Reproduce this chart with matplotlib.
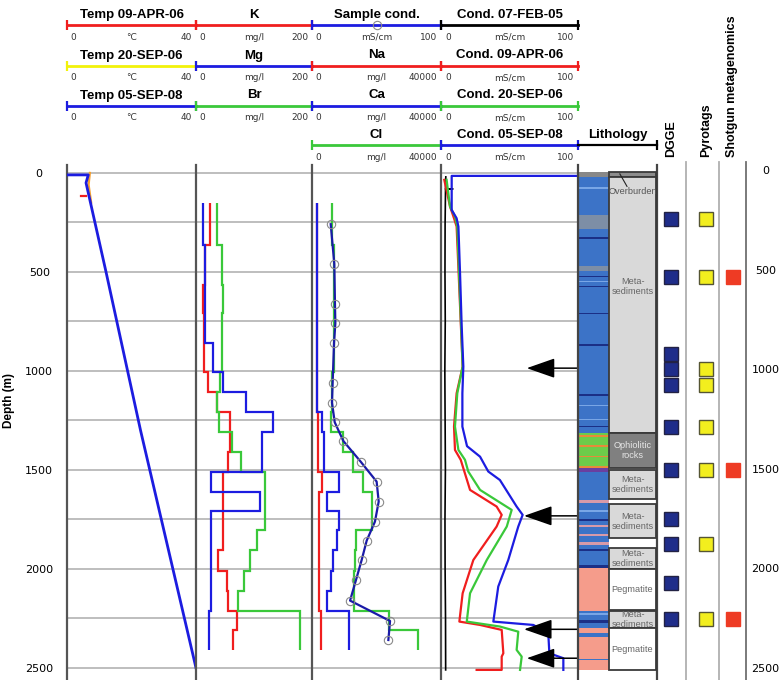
import numpy as np
import matplotlib.pyplot as plt
from matplotlib.patches import Rectangle

plt.rcParams['font.family'] = ['DejaVu Sans']

# ---------------- data ----------------
# temperature logs (deg C) vs depth (m)
temp08_depth = [10, 10, 50, 500, 1300, 2500]
temp08_val = [0, 6.6, 5.9, 12.1, 22.8, 40]
temp06s_depth = [0, 30, 60, 150]
temp06s_val = [7.1, 6.9, 6.7, 7.5]
temp06a_depth = [115, 115]
temp06a_val = [4.2, 5.9]

# water samples: depth interval edges (m)
samp_edges = [153, 364, 566, 709, 857, 1007, 1108, 1209, 1311, 1411, 1508,
              1610, 1707, 1803, 1904, 2008, 2109, 2210, 2308, 2409]
K = [24, 15.5, 12.6, 13.8, 13.8, 21.3, 35.6, 58.6, 58.6, 55.7, 46, 47, 47, 46,
     38.5, 53, 56, 70, 63]
Mg = [12.6, 15.5, 15.5, 15.5, 30, 47, 87, 133, 113, 113, 25, 111, 25, 25, 25,
      25, 25, 23, 23]
Br = [37, 44, 47, 44, 44, 41, 36, 40, 62, 78, 119, 119, 119, 105, 93, 83, 73,
      180, 180]
Na = [1450, 1450, 1450, 1450, 1450, 1450, 1450, 1960, 1960, 1960, 3000, 2270,
      2270, 2270, 2270, 2270, 2270, 2690, 2690]
Ca = [1650, 1650, 1650, 1650, 1650, 1650, 1650, 3000, 3720, 3720, 8470, 4550,
      8470, 7650, 6600, 5790, 4750, 11570, 11570]
Cl = [6100, 6900, 6800, 6800, 6800, 6300, 6300, 6000, 9600, 12700, 15700,
      18600, 18600, 13500, 13300, 12900, 12900, 24000, 33000]

# sample conductivity (mS/cm)
scond_depth = [259, 460, 662, 759, 857, 1059, 1160, 1259, 1354, 1458, 1559,
               1660, 1761, 1857, 1955, 2056, 2160, 2263, 2359]
scond_val = [14.5, 17.3, 17.8, 18.1, 17.1, 16.0, 15.5, 17.6, 24.3, 37.7, 50.1,
             51.7, 48.8, 42.4, 38.5, 34.1, 29.5, 60.5, 59.2]

# borehole conductivity logs (mS/cm)
c05_depth = [20, 81, 81, 81, 250, 500, 750, 1000, 1250, 1500, 1750, 2000,
             2250, 2510]
c05_val = [3.5, 3.3, 8.5, 3.3, 3.0, 2.9, 3.1, 2.8, 3.0, 3.2, 2.9, 3.0, 3.3, 3.4]
c06a_depth = [35, 170, 229, 271, 978, 1113, 1281, 1399, 1449, 1601, 1685, 1727,
              1786, 1955, 2123, 2266, 2283, 2308, 2426, 2443, 2510, 2510]
c06a_val = [2.4, 6.6, 9.5, 11.4, 15.8, 11.4, 9.5, 10.2, 14.4, 21.2, 40.6, 44.3,
            40.6, 23.6, 15.8, 13.4, 28.5, 44.3, 45.5, 44.3, 44.3, 26]
c06s_depth = [35, 170, 220, 271, 978, 1113, 1281, 1399, 1449, 1508, 1601, 1702,
              1786, 1955, 2123, 2266, 2291, 2317, 2409, 2443, 2510]
c06s_val = [4.1, 6.6, 10.2, 11.9, 15.8, 11.9, 10.2, 12.7, 17.5, 19.9, 28.5,
            51.6, 48, 33.4, 21.2, 18.8, 43, 56.4, 55.2, 58.9, 57.7]
c08_depth = [15, 15, 187, 229, 271, 507, 776, 978, 1113, 1281, 1380, 1433,
             1508, 1551, 1618, 1685, 1727, 1786, 1955, 2089, 2266, 2283, 2325,
             2426, 2451, 2510]
c08_val = [100, 7.8, 7.8, 11.4, 12.7, 13.9, 15.1, 16.3, 15.6, 15.6, 19, 28.5,
           34.5, 43, 49.1, 55.2, 59.6, 56.4, 49.1, 41.8, 38.2, 67.4, 78.3,
           79.1, 89.3, 89.3]

# inflow arrows: depth (m) and tip value (mS/cm)
arrow_depth = [986, 1732, 2305, 2451]
arrow_tip = [62.6, 60.6, 60.6, 62.6]

# lithology colour strip: top, bottom, colour
BL, NV, GB, LB = '#3c73c7', '#1b2f86', '#7d8ea6', '#79a6e6'
GR, OR, SA, PK, PU = '#6dcc4a', '#e88a3a', '#f59c8b', '#d89aa9', '#6a3fa0'
strip = [(-7, 22, '#888888'), (22, 1315, BL), (72, 80, LB), (215, 285, GB),
         (325, 333, NV), (468, 495, GB), (520, 528, NV), (545, 552, LB),
         (570, 578, NV), (705, 712, NV), (865, 872, NV), (1118, 1125, NV),
         (1170, 1175, LB), (1245, 1250, LB), (1278, 1284, NV),
         (1315, 1491, GR), (1325, 1333, OR), (1375, 1382, OR),
         (1430, 1437, OR), (1480, 1488, OR), (1491, 1508, PU),
         (1508, 1650, BL), (1650, 1665, PK), (1665, 1995, BL),
         (1700, 1712, LB), (1748, 1756, NV), (1780, 1790, PK),
         (1822, 1835, PK), (1862, 1880, PK), (1900, 1908, NV),
         (1982, 1998, NV), (1995, 2212, SA), (2212, 2300, BL),
         (2225, 2232, LB), (2258, 2275, NV), (2300, 2510, SA),
         (2325, 2342, BL), (2455, 2462, BL)]

# lithology units: top, bottom, label, label depth, fill, text colour
units = [(-7, 22, '', 0, '#8c8c8c', '#555555'),
         (22, 1315, 'Meta-\nsediments', 575, '#d9d9d9', '#666666'),
         (1315, 1491, 'Ophiolitic\nrocks', 1403, '#808080', '#e6e6e6'),
         (1500, 1648, 'Meta-\nsediments', 1574, '#d9d9d9', '#666666'),
         (1673, 1845, 'Meta-\nsediments', 1759, '#d9d9d9', '#666666'),
         (1895, 2000, 'Meta-\nsediments', 1947, '#d9d9d9', '#666666'),
         (2000, 2207, 'Pegmatite', 2103, 'white', '#666666'),
         (2212, 2300, 'Meta-\nsediments', 2256, '#d9d9d9', '#666666'),
         (2300, 2510, 'Pegmatite', 2405, 'white', '#666666')]

# microbiology samples (depth, m)
dgge = [246, 535, 924, 998, 1079, 1290, 1505, 1753, 1879, 2072, 2253]
pyro = [246, 535, 998, 1079, 1290, 1505, 1879, 2253]
shotgun = [535, 1505, 2253]

# ---------------- layout ----------------
W, H = 783, 680
TOP, BOT = 165, 680
YLIM = (2561, -40)
RED, BLUE, GREEN = '#f01e1e', '#1c1ce0', '#3ac83a'
YEL, ORANGE = '#f2f20a', '#f5a030'
SPINE = '#555555'
GRID = '#b3b3b3'
LIB = ['Liberation Sans', 'DejaVu Sans']


def fbox(x0, x1, y0, y1):
    return [x0 / W, 1 - y1 / H, (x1 - x0) / W, (y1 - y0) / H]


fig = plt.figure(figsize=(W / 100, H / 100), dpi=100)

tracks = [(67, 196), (196, 312), (312, 441), (441, 578)]
xmax = [40, 200, 40000, 100]
axs = []
for i, (x0, x1) in enumerate(tracks):
    ax = fig.add_axes(fbox(x0, x1, TOP, BOT),
                      sharey=axs[0] if axs else None)
    ax.set_xlim(0, xmax[i])
    ax.set_ylim(*YLIM)
    for s in ['top', 'right', 'bottom']:
        ax.spines[s].set_visible(False)
    ax.spines['left'].set_color(SPINE)
    ax.spines['left'].set_linewidth(1.6)
    ax.set_xticks([])
    ax.set_yticks(range(0, 2501, 500))
    ax.set_yticks(range(250, 2500, 500), minor=True)
    ax.grid(axis='y', which='both', color=GRID, lw=1.2, zorder=0)
    ax.tick_params(axis='y', which='both', length=0, labelsize=8, pad=20)
    ax.set_facecolor('none')
    axs.append(ax)
for ax in axs[1:]:
    ax.tick_params(axis='y', labelleft=False)
for lbl in axs[0].get_yticklabels():
    lbl.set_ha('center')

lw = 1.6
# temperature
a = axs[0]
a.plot(temp06a_val, temp06a_depth, color=RED, lw=lw, zorder=3)
a.plot(temp06s_val, temp06s_depth, color=ORANGE, lw=lw, zorder=3)
a.plot(temp08_val, temp08_depth, color=BLUE, lw=2.0, zorder=4)

# K, Mg, Br
a = axs[1]
for vals, c in [(K, RED), (Br, GREEN), (Mg, BLUE)]:
    a.stairs(vals, samp_edges, orientation='horizontal', baseline=None,
             color=c, lw=lw, zorder=3)

# Na, Ca, Cl + sample conductivity
a = axs[2]
for vals, c in [(Na, RED), (Cl, GREEN), (Ca, BLUE)]:
    a.stairs(vals, samp_edges, orientation='horizontal', baseline=None,
             color=c, lw=lw, zorder=3)
a2 = a.twiny()
a2.set_xlim(0, 100)
a2.axis('off')
a2.plot(scond_val, scond_depth, color='#1a1aa8', lw=lw, zorder=4)
a2.plot(scond_val, scond_depth, 'o', ms=6, mfc='none', mec='#8a8a8a',
        mew=0.8, zorder=5)

# conductivity logs
a = axs[3]
a.plot(c05_val, c05_depth, color='black', lw=1.2, zorder=3)
a.plot(c06a_val, c06a_depth, color=RED, lw=lw, zorder=3)
a.plot(c06s_val, c06s_depth, color=GREEN, lw=lw, zorder=3)
a.plot(c08_val, c08_depth, color=BLUE, lw=lw, zorder=4)
for d, tip in zip(arrow_depth, arrow_tip):
    a.annotate('', xy=(tip, d), xytext=(100.5, d), annotation_clip=False,
               arrowprops=dict(arrowstyle='-|>,head_length=0.8,head_width=0.28',
                               mutation_scale=22, color='black', lw=1.1,
                               shrinkA=0, shrinkB=0), zorder=6)

fig.text(9 / W, 1 - 400 / H, 'Depth (m)', rotation=90, ha='center',
         va='center', fontsize=8.5, fontweight='bold', family=LIB)

# lithology
al = fig.add_axes(fbox(578, 657, TOP, BOT), sharey=axs[0])
al.set_xlim(0, 1)
al.set_ylim(*YLIM)
al.set_xticks([])
al.tick_params(axis='y', which='both', length=0, labelleft=False)
for s in ['top', 'bottom']:
    al.spines[s].set_visible(False)
for s in ['left', 'right']:
    al.spines[s].set_color('#444444')
    al.spines[s].set_linewidth(1.6)
al.set_facecolor('none')
for t, b, c in strip:
    al.add_patch(Rectangle((0, t), 0.39, b - t, facecolor=c, edgecolor='none',
                           zorder=2))
for t, b, lab, ld, fc, tc in units:
    al.add_patch(Rectangle((0.39, t), 0.6, b - t, facecolor=fc,
                           edgecolor='#3a3a3a', lw=1.3, zorder=3))
    if lab:
        al.text(0.69, ld, lab, ha='center', va='center', fontsize=6.6,
                color=tc, linespacing=1.2, zorder=4, family=LIB)
al.text(0.69, 92, 'Overburden', ha='center', va='center', fontsize=6.6,
        color='#555555', zorder=4, family=LIB)
al.plot([0.53, 0.62], [5, 68], color='#222222', lw=0.8, zorder=4)

# microbiology columns
cols = [(657, 686, dgge, 0.48, '#1f2d8a', '#222244', 'DGGE', '#b0b0b0'),
        (686, 719, pyro, 0.6, '#f2ee1e', '#555533', 'Pyrotags', '#b0b0b0'),
        (719, 746, shotgun, 0.5, '#ee3b24', '#ee3b24',
         'Shotgun metagenomics', '#707070')]
for x0, x1, deps, xc, fc, ec, name, sc in cols:
    ac = fig.add_axes(fbox(x0, x1, TOP - 3, BOT), sharey=axs[0])
    ac.set_xlim(0, 1)
    ac.set_ylim(*YLIM)
    ac.set_xticks([])
    ac.set_facecolor('none')
    for s in ['top', 'bottom', 'left']:
        ac.spines[s].set_visible(False)
    ac.spines['right'].set_color(sc)
    ac.spines['right'].set_linewidth(1.3)
    ac.plot([xc] * len(deps), deps, 's', ms=10, mfc=fc, mec=ec, mew=1.0,
            zorder=3, clip_on=False)
    ac.text(xc, 1 - (157 - TOP + 3) / (BOT - TOP + 3), name, rotation=90,
            ha='center', va='bottom', transform=ac.transAxes, fontsize=9,
            fontweight='bold', family=LIB)
    ac.tick_params(axis='y', which='both', length=0, labelleft=False)
ac.yaxis.tick_right()
ac.tick_params(axis='y', which='both', length=0, labelright=True, pad=14,
               labelsize=8)
for lbl in ac.get_yticklabels():
    lbl.set_ha('center')

# ---------------- header scale bars ----------------
headers = [
    [('Temp 09-APR-06', RED, '0', '°C', '40'),
     ('Temp 20-SEP-06', YEL, '0', '°C', '40'),
     ('Temp 05-SEP-08', BLUE, '0', '°C', '40')],
    [('K', RED, '0', 'mg/l', '200'), ('Mg', BLUE, '0', 'mg/l', '200'),
     ('Br', GREEN, '0', 'mg/l', '200')],
    [('Sample cond.', BLUE, '0', 'mS/cm', '100'),
     ('Na', RED, '0', 'mg/l', '40000'), ('Ca', BLUE, '0', 'mg/l', '40000'),
     ('Cl', GREEN, '0', 'mg/l', '40000')],
    [('Cond. 07-FEB-05', 'black', '0', 'mS/cm', '100'),
     ('Cond. 09-APR-06', RED, '0', 'mS/cm', '100'),
     ('Cond. 20-SEP-06', GREEN, '0', 'mS/cm', '100'),
     ('Cond. 05-SEP-08', BLUE, '0', 'mS/cm', '100')],
]
row_y = [25, 65.5, 105.5, 145]
bold = dict(fontsize=9.5, fontweight='bold', family=LIB)
small = dict(fontsize=6.5, color='#333333')
for (x0, x1), rows in zip(tracks, headers):
    ah = fig.add_axes(fbox(x0, x1, 0, TOP))
    ah.set_xlim(0, 1)
    ah.set_ylim(TOP, 0)
    ah.axis('off')
    for (title, c, lo, unit, hi), y in zip(rows, row_y):
        ah.plot([0, 1], [y, y], color=c, lw=2, clip_on=False, zorder=2)
        ah.plot([0, 1], [y, y], '|', color=c, ms=7, mew=1.6, clip_on=False,
                zorder=3)
        ah.text(0.5, y - 10, title, ha='center', va='center', **bold)
        ah.text(0.03, y + 12.5, lo, ha='left', va='center', **small)
        ah.text(0.5, y + 12.5, unit, ha='center', va='center', **small)
        ah.text(0.97, y + 12.5, hi, ha='right', va='center', **small)
        if title == 'Sample cond.':
            ah.plot([0.5], [y], 'o', ms=6, mfc='none', mec='#8a8a8a',
                    mew=0.8, zorder=4)
ah = fig.add_axes(fbox(578, 657, 0, TOP))
ah.set_xlim(0, 1)
ah.set_ylim(TOP, 0)
ah.axis('off')
ah.plot([0, 1], [145, 145], color='black', lw=1.6, clip_on=False)
ah.plot([1], [145], '|', color='black', ms=7, mew=1.6, clip_on=False)
ah.text(0.5, 135, 'Lithology', ha='center', va='center', **bold)

fig.savefig('out.png', dpi=100)
